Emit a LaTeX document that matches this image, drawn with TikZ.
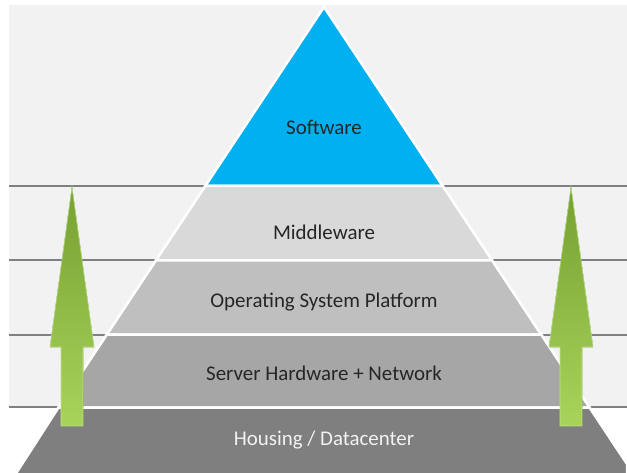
\documentclass[tikz,border=0pt]{standalone}
\usepackage{fontspec}
\setmainfont{Carlito}
\usetikzlibrary{calc}
\definecolor{backgray}{RGB}{242,242,242}
\definecolor{linegray}{RGB}{128,128,128}
\definecolor{softblue}{RGB}{0,176,240}
\definecolor{tierone}{RGB}{217,217,217}
\definecolor{tiertwo}{RGB}{191,191,191}
\definecolor{tierthree}{RGB}{166,166,166}
\definecolor{tierfour}{RGB}{127,127,127}
\definecolor{arrowdark}{RGB}{118,160,48}
\definecolor{arrowlight}{RGB}{168,212,92}
\tikzset{
  tier/.style={
    draw=white,
    line width=2.5bp,
    line join=miter
  },
  level-line/.style={draw=linegray, line width=1.1bp},
  tier-label/.style={font=\fontsize{21}{24}\selectfont, text=black!85, inner sep=0pt},
  up-arrow/.style={
    top color=arrowdark,
    bottom color=arrowlight,
    draw=arrowlight!70!white,
    line width=0.6bp,
    line join=miter
  }
}
% arrow with tip at (#1,#2)
\newcommand{\uparrowshape}[2]{
  \filldraw[up-arrow] (#1,#2) -- ++(22,160) -- ++(-11,0) -- ++(0,79)
    -- ++(-22,0) -- ++(0,-79) -- ++(-11,0) -- cycle;
}

\begin{document}
\begin{tikzpicture}[x=1bp,y=-1bp]
  \useasboundingbox (0,0) rectangle (627,473);
  % Background panel
  \fill[backgray] (9,5) rectangle (627,407);
  % Level lines
  \foreach \yy/\xl/\xr in {186/205/443, 260/156/492, 335/107/541, 407/58/589} {
    \draw[level-line] (9,\yy) -- (\xl,\yy);
    \draw[level-line] (\xr,\yy) -- (627,\yy);
  }
  % Pyramid tiers
  \filldraw[tier, fill=softblue] (324,7) -- (442.7,186) -- (205.3,186) -- cycle;
  \filldraw[tier, fill=tierone] (205.3,186) -- (442.7,186) -- (492.1,260.5) -- (155.9,260.5) -- cycle;
  \filldraw[tier, fill=tiertwo] (155.9,260.5) -- (492.1,260.5) -- (541.1,334.5) -- (106.9,334.5) -- cycle;
  \filldraw[tier, fill=tierthree] (106.9,334.5) -- (541.1,334.5) -- (589.5,407.5) -- (58.5,407.5) -- cycle;
  \filldraw[tier, fill=tierfour] (58.5,407.5) -- (589.5,407.5) -- (627,464) -- (627,475) -- (15,475) -- cycle;
  % Labels
  \node[tier-label] (software) at (324,127) {Software};
  \node[tier-label] (middleware) at (324,232) {Middleware};
  \node[tier-label] (platform) at (324,302) {Operating System Platform};
  \node[tier-label] (hardware) at (324,373) {Server Hardware + Network};
  \node[tier-label, text=backgray] (housing) at (324,440) {Housing / Datacenter};
  % Growth arrows
  \uparrowshape{72}{187}
  \uparrowshape{571}{187}
\end{tikzpicture}
\end{document}
